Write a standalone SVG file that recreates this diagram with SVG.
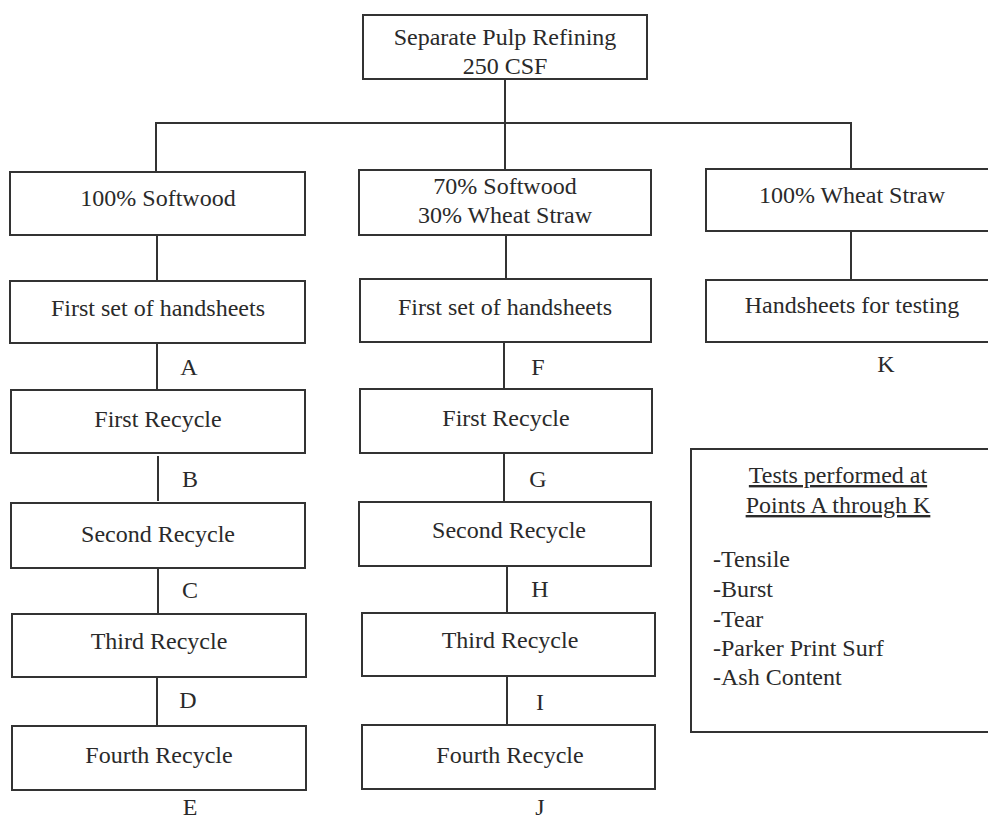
<svg xmlns="http://www.w3.org/2000/svg" width="988" height="821" viewBox="0 0 988 821">
<style>
.box{fill:#fff;stroke:#333;stroke-width:2}
.ln{stroke:#333;stroke-width:2;fill:none}
text{font-family:"Liberation Serif","Times New Roman",serif;font-size:24px;fill:#2a2a2a}
.c{text-anchor:middle}
</style>
<rect width="988" height="821" fill="#fff"/>
<g id="connectors">
<line class="ln" x1="505" y1="79" x2="505" y2="123"/>
<line class="ln" x1="155" y1="123" x2="852" y2="123"/>
<line class="ln" x1="156" y1="123" x2="156" y2="172"/>
<line class="ln" x1="505" y1="123" x2="505" y2="170"/>
<line class="ln" x1="851" y1="123" x2="851" y2="169"/>
<line class="ln" x1="157" y1="235" x2="157" y2="281"/>
<line class="ln" x1="157" y1="343" x2="157" y2="390"/>
<line class="ln" x1="158" y1="456" x2="158" y2="501"/>
<line class="ln" x1="158" y1="568" x2="158" y2="614"/>
<line class="ln" x1="157" y1="677" x2="157" y2="726"/>
<line class="ln" x1="506" y1="235" x2="506" y2="279"/>
<line class="ln" x1="504" y1="342" x2="504" y2="389"/>
<line class="ln" x1="504" y1="453" x2="504" y2="502"/>
<line class="ln" x1="507" y1="566" x2="507" y2="613"/>
<line class="ln" x1="507" y1="676" x2="507" y2="725"/>
<line class="ln" x1="851" y1="231" x2="851" y2="280"/>
</g>
<g id="top"><rect class="box" x="363" y="15" width="284" height="64"/>
<text class="c" x="505" y="45">Separate Pulp Refining</text><text class="c" x="505" y="74">250 CSF</text></g>
<g id="sw100"><rect class="box" x="10" y="172" width="295" height="63"/><text class="c" x="158" y="206">100% Softwood</text></g>
<g id="mix"><rect class="box" x="359" y="170" width="292" height="65"/><text class="c" x="505" y="194">70% Softwood</text><text class="c" x="505" y="223">30% Wheat Straw</text></g>
<g id="ws100"><rect class="box" x="706" y="169" width="290" height="62"/><text class="c" x="852" y="203">100% Wheat Straw</text></g>
<g id="hs1"><rect class="box" x="10" y="281" width="295" height="62"/><text class="c" x="158" y="316">First set of handsheets</text></g>
<g id="hs2"><rect class="box" x="360" y="279" width="291" height="63"/><text class="c" x="505" y="315">First set of handsheets</text></g>
<g id="hs3"><rect class="box" x="706" y="280" width="290" height="62"/><text class="c" x="852" y="313">Handsheets for testing</text></g>
<g id="r1a"><rect class="box" x="11" y="390" width="294" height="63"/><text class="c" x="158" y="427">First Recycle</text></g>
<g id="r2a"><rect class="box" x="11" y="503" width="294" height="65"/><text class="c" x="158" y="542">Second Recycle</text></g>
<g id="r3a"><rect class="box" x="12" y="614" width="294" height="63"/><text class="c" x="159" y="649">Third Recycle</text></g>
<g id="r4a"><rect class="box" x="12" y="726" width="294" height="64"/><text class="c" x="159" y="763">Fourth Recycle</text></g>
<g id="r1b"><rect class="box" x="360" y="389" width="292" height="64"/><text class="c" x="506" y="426">First Recycle</text></g>
<g id="r2b"><rect class="box" x="359" y="502" width="292" height="64"/><text class="c" x="509" y="538">Second Recycle</text></g>
<g id="r3b"><rect class="box" x="362" y="613" width="293" height="63"/><text class="c" x="510" y="648">Third Recycle</text></g>
<g id="r4b"><rect class="box" x="362" y="725" width="293" height="64"/><text class="c" x="510" y="763">Fourth Recycle</text></g>
<g id="labels">
<text class="c" x="189" y="375">A</text>
<text class="c" x="190" y="487">B</text>
<text class="c" x="190" y="598">C</text>
<text class="c" x="188" y="708">D</text>
<text class="c" x="190" y="815">E</text>
<text class="c" x="538" y="375">F</text>
<text class="c" x="538" y="487">G</text>
<text class="c" x="540" y="597">H</text>
<text class="c" x="540" y="710">I</text>
<text class="c" x="540" y="815">J</text>
<text class="c" x="886" y="372">K</text>
</g>
<g id="tests"><rect class="box" x="691" y="449" width="305" height="283"/>
<text class="c" x="838" y="483" text-decoration="underline">Tests performed at</text>
<text class="c" x="838" y="513" text-decoration="underline">Points A through K</text>
<text x="713" y="567">-Tensile</text>
<text x="713" y="597">-Burst</text>
<text x="713" y="627">-Tear</text>
<text x="713" y="656">-Parker Print Surf</text>
<text x="713" y="685">-Ash Content</text>
</g>
</svg>
